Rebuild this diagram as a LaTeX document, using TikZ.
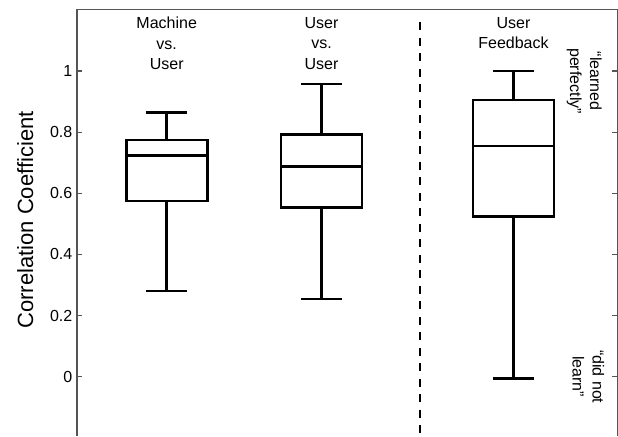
\documentclass[tikz,border=0pt]{standalone}
\usepackage{fontspec}
\setmainfont{Liberation Sans}
\usepackage{tikz}
\usetikzlibrary{positioning,calc}
\definecolor{axisgray}{RGB}{85,85,85}
\newcommand{\drawcorrbox}[6]{% x, min, q1, median, q3, max
  \draw[boxline] (#1-40.5,#3) rectangle (#1+40.5,#5);
  \draw[boxline] (#1-40.5,#4) -- (#1+40.5,#4);
  \draw[boxline] (#1,#5) -- (#1,#6);
  \draw[boxline] (#1,#3) -- (#1,#2);
  \draw[boxline] (#1-20.3,#6) -- (#1+20.3,#6);
  \draw[boxline] (#1-20.3,#2) -- (#1+20.3,#2);
}
\tikzset{
  axisline/.style={draw=axisgray,line width=1.3pt},
  tickmark/.style={draw=axisgray,line width=1.2pt},
  boxline/.style={draw=black,line width=2.6pt},
  splitline/.style={draw=black,line width=2pt,dash pattern=on 8pt off 7.5pt},
  ticklabel/.style={font=\fontsize{16}{19}\selectfont,anchor=east,inner sep=0pt},
  grouplabel/.style={
    font=\fontsize{16}{20.5}\selectfont,align=center,anchor=north,inner sep=0pt
  },
  sidelabel/.style={
    font=\fontsize{16}{20}\selectfont,align=center,rotate=-90,inner sep=0pt
  },
  axislabel/.style={font=\fontsize{22}{26}\selectfont,rotate=90,inner sep=0pt}
}
\begin{document}
\begin{tikzpicture}[x=1pt,y=305.7pt]
  \useasboundingbox (0,-0.194) rectangle (618,1.2323);
  % frame and ticks
  \draw[axisline] (77,-0.194) -- (77,1.2016) -- (617.3,1.2016) -- (617.3,-0.194);
  \foreach \v [count=\i] in {0,0.2,0.4,0.6,0.8,1}{
    \draw[tickmark] (77,\v) -- (82,\v);
    \draw[tickmark] (617.3,\v) -- (612.3,\v);
    \node[ticklabel] (tick\i) at (72.5,\v) {\v};
  }
  \node[axislabel] (ylabel) at (25.3,0.5126) {Correlation Coefficient};
  % boxes
  \drawcorrbox{166.7}{0.280}{0.575}{0.723}{0.774}{0.864}
  \drawcorrbox{321.5}{0.254}{0.553}{0.688}{0.793}{0.958}
  \drawcorrbox{513.5}{-0.005}{0.525}{0.755}{0.905}{1.0}
  \draw[splitline] (420,1.160) -- (420,-0.194);
  % labels
  \node[grouplabel] (machine) at (166.7,1.1766) {Machine\\vs.\\User};
  \node[grouplabel] (users) at (321.5,1.1766) {User\\vs.\\User};
  \node[grouplabel] (feedback) at (513.5,1.1766) {User\\Feedback};
  \node[sidelabel] (perfect) at (584.2,0.967) {“learned\\perfectly”};
  \node[sidelabel] (notlearn) at (588.3,0.0) {“did not\\learn”};
\end{tikzpicture}
\end{document}
